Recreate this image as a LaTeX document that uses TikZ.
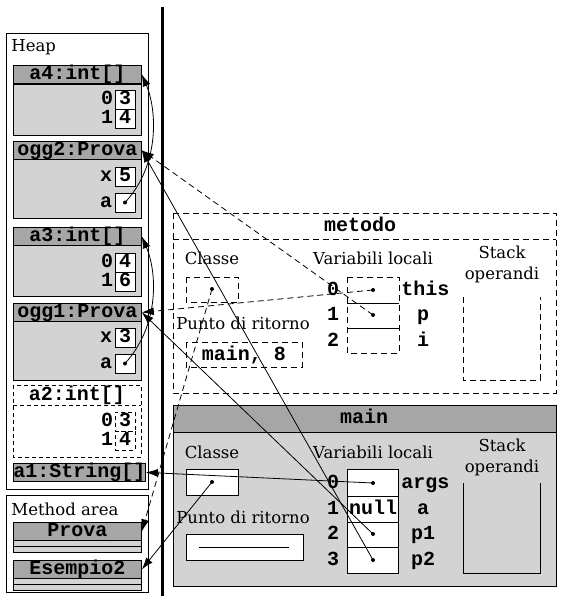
\documentclass[tikz,border=0pt]{standalone}
\usepackage{fontspec}
\setmainfont{DejaVu Serif}
\setmonofont{Liberation Mono}
\usetikzlibrary{arrows.meta}
\definecolor{hdrgray}{HTML}{A6A6A6}
\definecolor{bodygray}{HTML}{D3D3D3}
\begin{document}
\begin{tikzpicture}[x=1pt,y=-1pt,line width=0.8pt,
  lbl/.style={font=\fontsize{16.5}{18}\selectfont,inner sep=0},
  code/.style={font=\fontsize{20}{22}\selectfont\ttfamily\bfseries,inner sep=0,text height=14pt,text depth=4pt},
  hdr/.style={draw,fill=hdrgray,code,minimum width=128pt,minimum height=18pt,anchor=north west},
  bodyr/.style={draw,fill=bodygray},
  stripe/.style={draw,fill=bodygray,minimum width=128pt,minimum height=6pt,inner sep=0,anchor=north west},
  val/.style={draw,fill=white,code,minimum width=20pt,minimum height=19pt},
  dval/.style={draw,dash pattern=on 4pt off 3pt,code,minimum width=20pt,minimum height=19pt},
  dot/.style={circle,fill,inner sep=0,minimum size=4pt},
  dsh/.style={dash pattern=on 6pt off 4pt},
  arr/.style={-{Latex[length=12pt,width=8pt]}},
  frame/.style={draw,fill=white}]
\useasboundingbox (0,0) rectangle (563,596);
% ---------------- Heap
\path[frame] (6,33) rectangle (148,489);
\node[lbl,anchor=west] (heap) at (11,47) {Heap};
% a4
\path[bodyr] (13,84) rectangle (141,135);
\node[hdr] (a4) at (13,65) {a4:int[]};
\node[val] (a4v0) at (125,99.5) {3};
\node[val] (a4v1) at (125,118.5) {4};
\node[code] (a4i0) at (107,99.5) {0};
\node[code] (a4i1) at (107,118.5) {1};
% ogg2
\path[bodyr] (13,159) rectangle (141,218);
\node[hdr] (ogg2) at (13,141) {ogg2:Prova};
\node[val] (ogg2x) at (125,176.5) {5};
\node[val] (ogg2a) at (125,202.5) {};
\node[dot] (ogg2ad) at (125,202.5) {};
\node[code] (ogg2xl) at (106,176.5) {x};
\node[code] (ogg2al) at (106,202.5) {a};
% a3
\path[bodyr] (13,245) rectangle (141,296);
\node[hdr] (a3) at (13,227) {a3:int[]};
\node[val] (a3v0) at (125,262.5) {4};
\node[val] (a3v1) at (125,281.5) {6};
\node[code] (a3i0) at (107,262.5) {0};
\node[code] (a3i1) at (107,281.5) {1};
% ogg1
\path[bodyr] (13,321) rectangle (141,380);
\node[hdr] (ogg1) at (13,303) {ogg1:Prova};
\node[val] (ogg1x) at (125,337.5) {3};
\node[val] (ogg1a) at (125,363.5) {};
\node[dot] (ogg1ad) at (125,363.5) {};
\node[code] (ogg1xl) at (106,337.5) {x};
\node[code] (ogg1al) at (106,363.5) {a};
% a2 (dashed)
\draw[dash pattern=on 4pt off 3pt] (13,385) rectangle (141,457);
\draw[dash pattern=on 4pt off 3pt] (13,405) -- (141,405);
\node[code] (a2) at (77,395) {a2:int[]};
\node[dval] (a2v0) at (125,421.5) {3};
\node[dval] (a2v1) at (125,440.5) {4};
\node[code] (a2i0) at (107,421.5) {0};
\node[code] (a2i1) at (107,440.5) {1};
% a1
\node[hdr] (a1) at (13,463) {a1:String[]};
% ---------------- Method area
\path[frame] (6,495) rectangle (148,592);
\node[lbl,anchor=west] (marea) at (11,509) {Method area};
\node[hdr] (prova) at (13,522) {Prova};
\node[stripe] (prova1) at (13,540) {};
\node[stripe] (prova2) at (13,546) {};
\node[hdr] (esempio) at (13,560) {Esempio2};
\node[stripe] (esempio1) at (13,578) {};
\node[stripe] (esempio2) at (13,584) {};
% thick separator
\draw[line width=3pt] (162,7) -- (162,596);
% ---------------- metodo frame
\draw[dsh] (173,213) rectangle (556,393);
\draw[dsh] (173,239) -- (556,239);
\node[code] (metodo) at (360,226) {metodo};
\node[lbl] (mcl) at (212,258) {Classe};
\draw[dsh] (186,277) rectangle (238,302);
\node[dot] (mclassd) at (212,289) {};
\node[lbl] (mpr) at (243,323) {Punto di ritorno};
\draw[dsh] (186,342) rectangle (302,367);
\node[code] (mret) at (244,355) {main, 8};
\node[lbl] (mvl) at (373,258) {Variabili locali};
\draw[dsh] (347,277) rectangle (399,353);
\draw (347,303) -- (399,303);
\draw (347,328) -- (399,328);
\node[dot] (thisd) at (373,290) {};
\node[dot] (pd) at (373,315) {};
\node[code] (mi0) at (333,290) {0};
\node[code] (mi1) at (333,315) {1};
\node[code] (mi2) at (333,341) {2};
\node[code,anchor=west] (mthis) at (401,290) {this};
\node[code] (mp) at (423,315) {p};
\node[code] (mii) at (423,341) {i};
\node[lbl] (mst1) at (502,252) {Stack};
\node[lbl] (mst2) at (502,275) {operandi};
\draw[dsh] (463,297) -- (463,380) -- (540,380) -- (540,297);
% ---------------- main frame
\path[bodyr] (173,405) rectangle (556,586);
\path[draw,fill=hdrgray] (173,405) rectangle (556,432);
\node[code] (mainl) at (364,418) {main};
\node[lbl] (ccl) at (212,452) {Classe};
\path[frame] (186,469) rectangle (238,495);
\node[dot] (cclassd) at (212,482) {};
\node[lbl] (cpr) at (243,517) {Punto di ritorno};
\path[frame] (186,534) rectangle (303,560);
\draw (199,547) -- (289,547);
\node[lbl] (cvl) at (373,452) {Variabili locali};
\path[frame] (347,469) rectangle (398,573);
\draw (347,496) -- (398,496);
\draw (347,522) -- (398,522);
\draw (347,547) -- (398,547);
\node[dot] (argsd) at (373,483) {};
\node[code] (nulll) at (373,509) {null};
\node[dot] (p1d) at (373,534) {};
\node[dot] (p2d) at (373,560) {};
\node[code] (ci0) at (333,483) {0};
\node[code] (ci1) at (333,509) {1};
\node[code] (ci2) at (333,534) {2};
\node[code] (ci3) at (333,560) {3};
\node[code,anchor=west] (cargs) at (401,483) {args};
\node[code] (ca) at (423,509) {a};
\node[code] (cp1) at (423,534) {p1};
\node[code] (cp2) at (423,560) {p2};
\node[lbl] (cst1) at (502,445) {Stack};
\node[lbl] (cst2) at (502,468) {operandi};
\draw (463,483) -- (463,573) -- (540,573) -- (540,483);
% ---------------- connectors
\draw[arr] (argsd.center) -- (a1.east);
\draw[arr] (cclassd.center) -- (esempio.east);
\draw[arr] (p1d.center) -- (ogg1.east);
\draw[arr] (p2d.center) -- (ogg2.east);
\draw[arr,dsh] (thisd.center) -- (ogg1.east);
\draw[arr,dsh] (pd.center) -- (ogg2.east);
\draw[arr,dsh] (mclassd.center) -- (prova.east);
\draw[arr] (ogg2ad.center) .. controls (160,165) and (157,110) .. (a4.east);
\draw[arr] (ogg1ad.center) .. controls (160,325) and (157,272) .. (a3.east);
\end{tikzpicture}
\end{document}
